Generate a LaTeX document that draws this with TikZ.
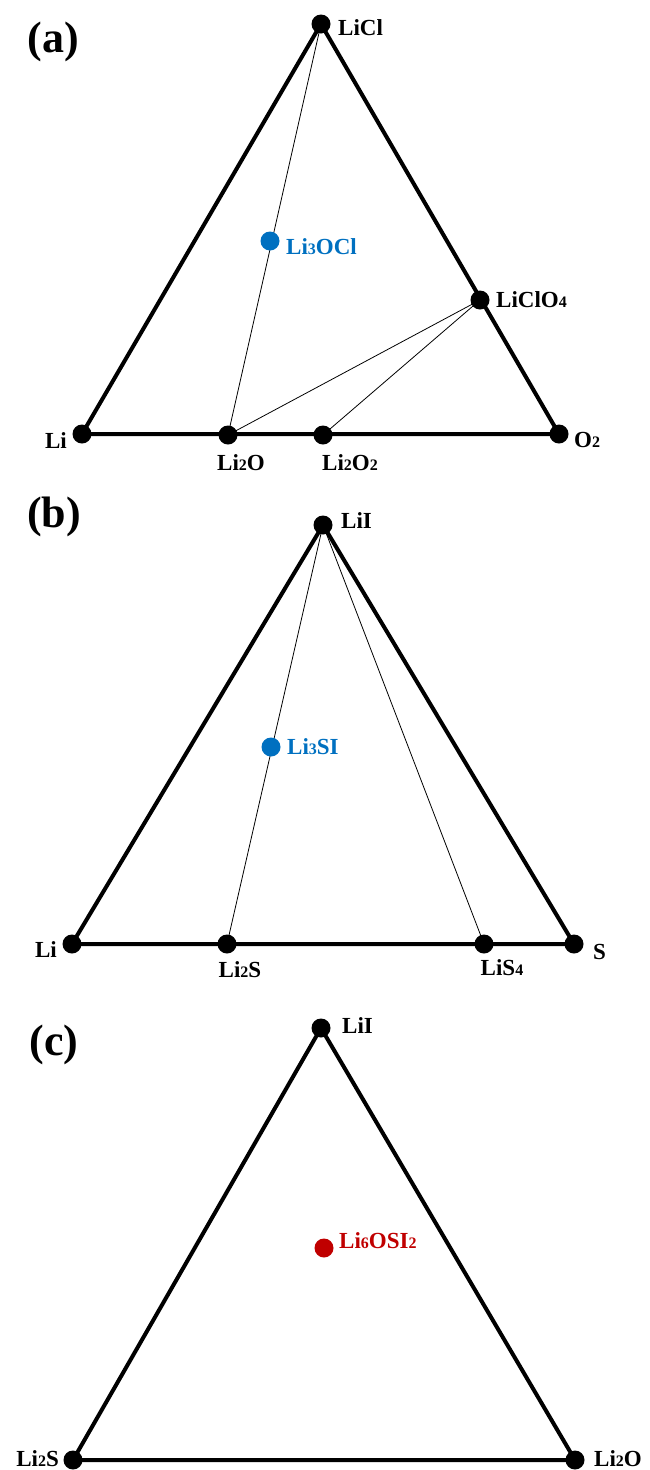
\documentclass[tikz,border=0pt]{standalone}
\usepackage{fontspec}
\setmainfont{Liberation Serif}
\usetikzlibrary{backgrounds}
\definecolor{phaseblue}{RGB}{0,112,192}
\definecolor{phasered}{RGB}{192,0,0}
\newcommand{\sbs}[1]{{\fontsize{16}{16}\selectfont #1}}
\tikzset{
  dot/.style={circle,fill=black,inner sep=0pt,minimum size=19pt},
  lbl/.style={font=\fontsize{23}{23}\selectfont\bfseries,inner sep=0pt},
  panel/.style={font=\fontsize{44}{44}\selectfont\bfseries,inner sep=0pt},
  edge/.style={line width=4pt,line join=round},
  tie/.style={line width=0.8pt}
}
\begin{document}
\begin{tikzpicture}[x=1pt,y=-1pt]
\useasboundingbox (0,0) rectangle (650,1470);
% ---------- (a)
\node[panel] (pa) at (53,42) {(a)};
\node[dot] (licl) at (321,24) {};
\node[dot] (lia) at (82,434) {};
\node[dot] (o2) at (559,434) {};
\node[dot] (li2oa) at (228,435) {};
\node[dot] (li2o2) at (323,435) {};
\node[dot] (liclo4) at (480,300) {};
\node[dot,fill=phaseblue] (li3ocl) at (270,241) {};
\begin{scope}[on background layer]
\draw[edge] (licl.center) -- (lia.center) -- (o2.center) -- cycle;
\draw[tie] (licl.center) -- (li2oa.center);
\draw[tie] (li2oa.center) -- (liclo4.center) -- (li2o2.center);
\end{scope}
\node[lbl,anchor=west] (tlicl) at (338,28) {LiCl};
\node[lbl,anchor=east] (tlia) at (67,441) {Li};
\node[lbl] (tli2oa) at (241,463) {Li\sbs{2}O};
\node[lbl] (tli2o2) at (350,463) {Li\sbs{2}O\sbs{2}};
\node[lbl,anchor=west] (to2) at (574,440) {O\sbs{2}};
\node[lbl,anchor=west] (tliclo4) at (496,300) {LiClO\sbs{4}};
\node[lbl,anchor=west,text=phaseblue] (tli3ocl) at (286,247) {Li\sbs{3}OCl};
% ---------- (b)
\node[panel] (pb) at (54,517) {(b)};
\node[dot] (liib) at (323,525) {};
\node[dot] (lib) at (72,944) {};
\node[dot] (s) at (574,944) {};
\node[dot] (li2sb) at (227,944) {};
\node[dot] (lis4) at (484,944) {};
\node[dot,fill=phaseblue] (li3si) at (271,747) {};
\begin{scope}[on background layer]
\draw[edge] (liib.center) -- (lib.center) -- (s.center) -- cycle;
\draw[tie] (liib.center) -- (li2sb.center);
\draw[tie] (liib.center) -- (lis4.center);
\end{scope}
\node[lbl,anchor=west] (tliib) at (341,521) {LiI};
\node[lbl,anchor=east] (tlib) at (57,950) {Li};
\node[lbl,anchor=west] (ts) at (593,952) {S};
\node[lbl] (tli2sb) at (240,970) {Li\sbs{2}S};
\node[lbl] (tlis4) at (502,968) {LiS\sbs{4}};
\node[lbl,anchor=west,text=phaseblue] (tli3si) at (287,747) {Li\sbs{3}SI};
% ---------- (c)
\node[panel] (pc) at (54,1045) {(c)};
\node[dot] (liic) at (321,1028) {};
\node[dot] (li2sc) at (73,1460) {};
\node[dot] (li2oc) at (575,1460) {};
\node[dot,fill=phasered] (li6osi2) at (324,1248) {};
\begin{scope}[on background layer]
\draw[edge] (liic.center) -- (li2sc.center) -- (li2oc.center) -- cycle;
\end{scope}
\node[lbl,anchor=west] (tliic) at (342,1026) {LiI};
\node[lbl,anchor=east] (tli2sc) at (59,1459) {Li\sbs{2}S};
\node[lbl,anchor=west] (tli2oc) at (594,1459) {Li\sbs{2}O};
\node[lbl,anchor=west,text=phasered] (tli6osi2) at (339,1241) {Li\sbs{6}OSI\sbs{2}};
\end{tikzpicture}
\end{document}
